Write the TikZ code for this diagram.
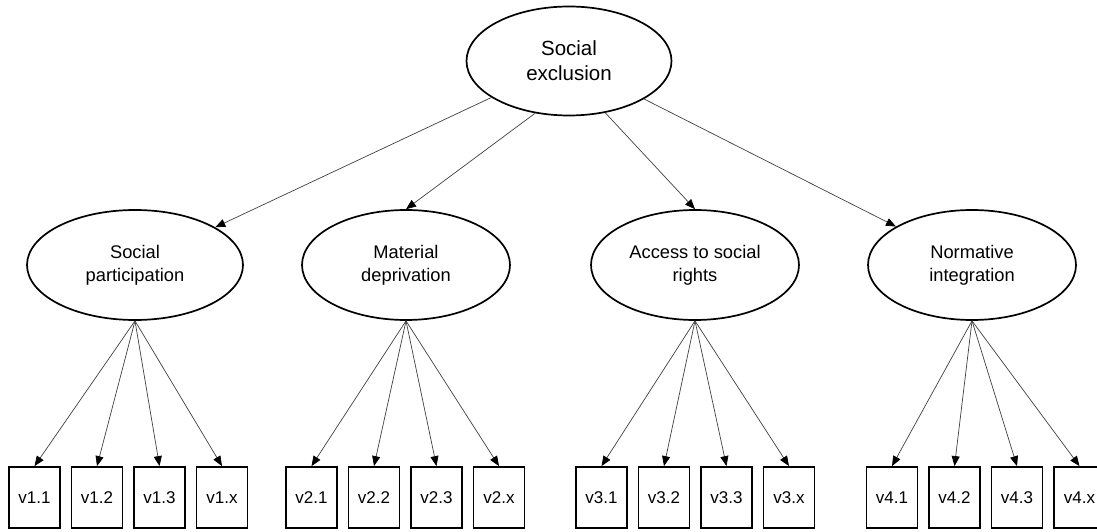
\documentclass[tikz,border=0pt]{standalone}
\usepackage{fontspec}
\setmainfont{Liberation Sans}
\usetikzlibrary{%
  arrows.meta,%
  shapes.geometric%
}
\tikzset{
  latent/.style={ellipse,draw,line width=1.7pt,minimum width=208pt,minimum height=110pt,
    inner sep=0pt,align=center,font=\fontsize{18.3}{23}\selectfont},
  item/.style={rectangle,draw,line width=1.8pt,minimum width=51pt,minimum height=61pt,
    inner sep=0pt,font=\fontsize{17}{20}\selectfont},
  load/.style={-{Triangle[length=10pt,width=8pt,black]},line width=0.7pt,draw=black!75}
}
\begin{document}
\begin{tikzpicture}[x=1pt,y=1pt]
    \clip (0,0) rectangle (1097,531);
    \node [latent,minimum width=205pt,minimum height=109pt,font=\fontsize{20.5}{25}\selectfont]
      (excl) at (569,470) {Social\\exclusion};
    \node [latent,minimum width=216pt] (part) at (135,266) {Social\\participation};
    \node [latent] (depr) at (406,266) {Material\\deprivation};
    \node [latent] (rights) at (695,266) {Access to social\\rights};
    \node [latent] (integ) at (972,266) {Normative\\integration};
    \draw [load] (excl) -- (part);
    \draw [load] (excl.237) -- (depr.north);
    \draw [load] (excl.305) -- (rights.north);
    \draw [load] (excl) -- (integ);
    % indicators
    \foreach \g/\bx/\lv in {1/34.5/part,2/311.5/depr,3/601.5/rights,4/892/integ}
      \foreach \i/\lab in {0/1,1/2,2/3,3/x} {
        \node [item] (v\g-\lab) at (\bx+62.5*\i,33.5) {v\g.\lab};
        \draw [load] (\lv.south) -- (v\g-\lab.north);
      }
  \end{tikzpicture}
\end{document}
